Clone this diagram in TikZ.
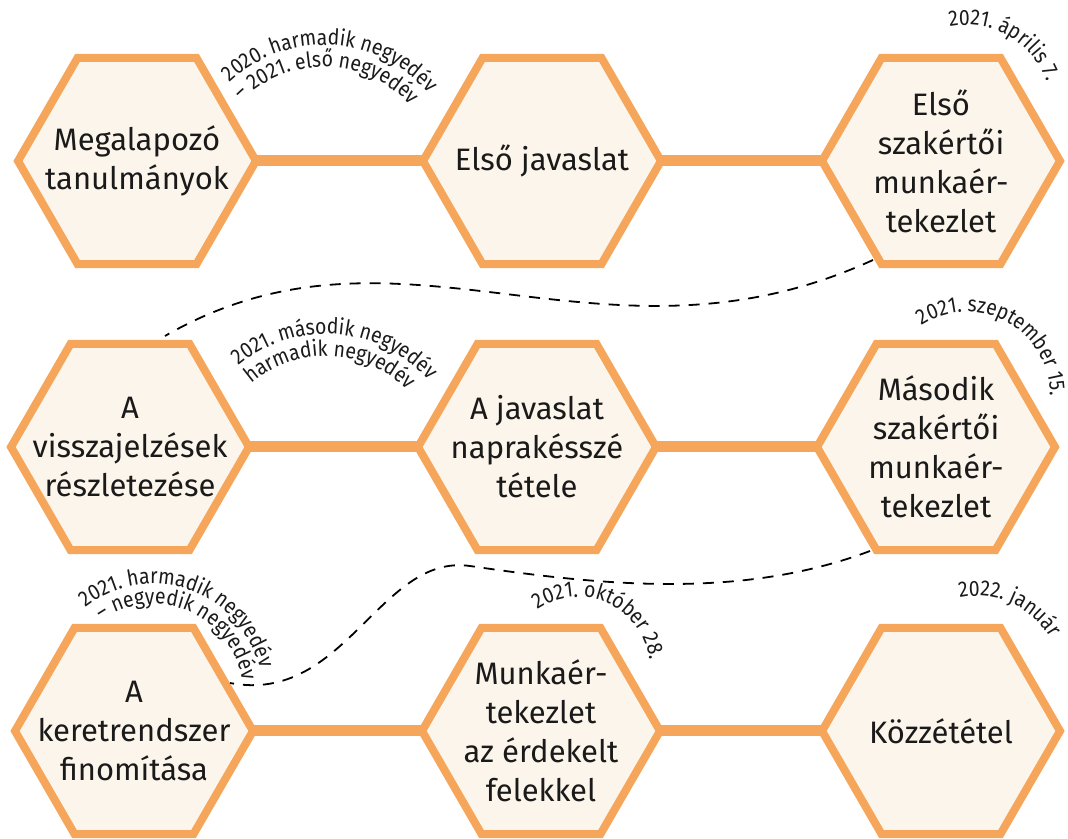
\documentclass[tikz,border=0pt]{standalone}
\usepackage{fontspec}
\setmainfont{Fira Sans}
\newfontfamily\lblfam[FakeStretch=0.88]{Fira Sans}
\usetikzlibrary{shapes.geometric,decorations.text,backgrounds}
\definecolor{hexorange}{RGB}{245,166,91}
\definecolor{hexfill}{RGB}{252,245,235}
\definecolor{txt}{RGB}{26,26,26}
\newcommand{\lblfont}{\lblfam\fontsize{22}{23}\selectfont\color{txt}}
\newcommand{\arclabel}[5]{%
  \path[decorate,decoration={text along path,text align=left,
     text={|\lblfont|#5}}]
     (#1,838-#2) ++(#4:#3) arc[start angle=#4,end angle=#4-220,radius=#3];}
\begin{document}
\begin{tikzpicture}[x=1pt,y=1pt,
  hexbox/.style={regular polygon,regular polygon sides=6,minimum size=238pt,
    inner sep=0pt,draw=hexorange,line width=8pt,fill=hexfill},
  hextext/.style={align=center,text=txt,font=\fontsize{31}{39}\selectfont},
  bar/.style={draw=hexorange,line width=11pt},
  dashlink/.style={draw=black,line width=1.8pt,dash pattern=on 11pt off 9pt}]
\useasboundingbox (0,0) rectangle (1068,838);
% hexagons
\node[hexbox] (h1) at (137,838-161) {};
\node[hexbox] (h2) at (542,838-161) {};
\node[hexbox] (h3) at (941,838-161) {};
\node[hexbox] (h4) at (130,838-447) {};
\node[hexbox] (h5) at (537,838-447) {};
\node[hexbox] (h6) at (936,838-447) {};
\node[hexbox] (h7) at (134,838-731) {};
\node[hexbox] (h8) at (541,838-731) {};
\node[hexbox] (h9) at (941,838-731) {};
% texts
\node[hextext] (t1) at (h1.center) {Megalapozó\\tanulmányok};
\node[hextext] (t2) at (h2.center) {Első javaslat};
\node[hextext] (t3) at (h3.center) {Első\\szakértői\\munkaér-\\tekezlet};
\node[hextext] (t4) at (h4.center) {A\\visszajelzések\\részletezése};
\node[hextext] (t5) at (h5.center) {A javaslat\\naprakésszé\\tétele};
\node[hextext] (t6) at (h6.center) {Második\\szakértői\\munkaér-\\tekezlet};
\node[hextext] (t7) at (h7.center) {A\\keretrendszer\\finomítása};
\node[hextext] (t8) at (h8.center) {Munkaér-\\tekezlet\\az érdekelt\\felekkel};
\node[hextext] (t9) at (h9.center) {Közzététel};
% bars
\begin{scope}[on background layer]
\draw[bar] (h1.center) -- (h2.center);
\draw[bar] (h2.center) -- (h3.center);
\draw[bar] (h4.center) -- (h5.center);
\draw[bar] (h5.center) -- (h6.center);
\draw[bar] (h7.center) -- (h8.center);
\draw[bar] (h8.center) -- (h9.center);
\end{scope}
% dashed links
\coordinate (d1s) at (873,838-260);
\coordinate (d1e) at (165,838-336);
\coordinate (d2s) at (870,838-551);
\coordinate (d2m) at (470,838-566);
\coordinate (d2e) at (230,838-683);
\draw[dashlink] (d1s) .. controls (600,838-385) and (400,838-200) .. (d1e);
\draw[dashlink] (d2s) .. controls (740,838-600) and (600,838-585) .. (d2m)
  .. controls (380,838-553) and (345,838-705) .. (d2e);
% curved labels
\arclabel{324}{183}{138}{133}{2020. harmadik negyedév}
\arclabel{324}{183}{116}{135}{– 2021. első negyedév}
\arclabel{966}{111}{86}{101}{2021. április 7.}
\arclabel{326}{470}{136}{130}{2021. második negyedév}
\arclabel{326}{470}{114}{131}{harmadik negyedév}
\arclabel{967}{395}{83}{123}{2021. szeptember 15.}
\arclabel{153}{694}{110}{128}{2021. harmadik negyedév}
\arclabel{153}{694}{90}{125}{– negyedik negyedév}
\arclabel{578}{669}{72}{124}{2021. október 28.}
\arclabel{977}{680}{84}{102}{2022. január}
\end{tikzpicture}
\end{document}
